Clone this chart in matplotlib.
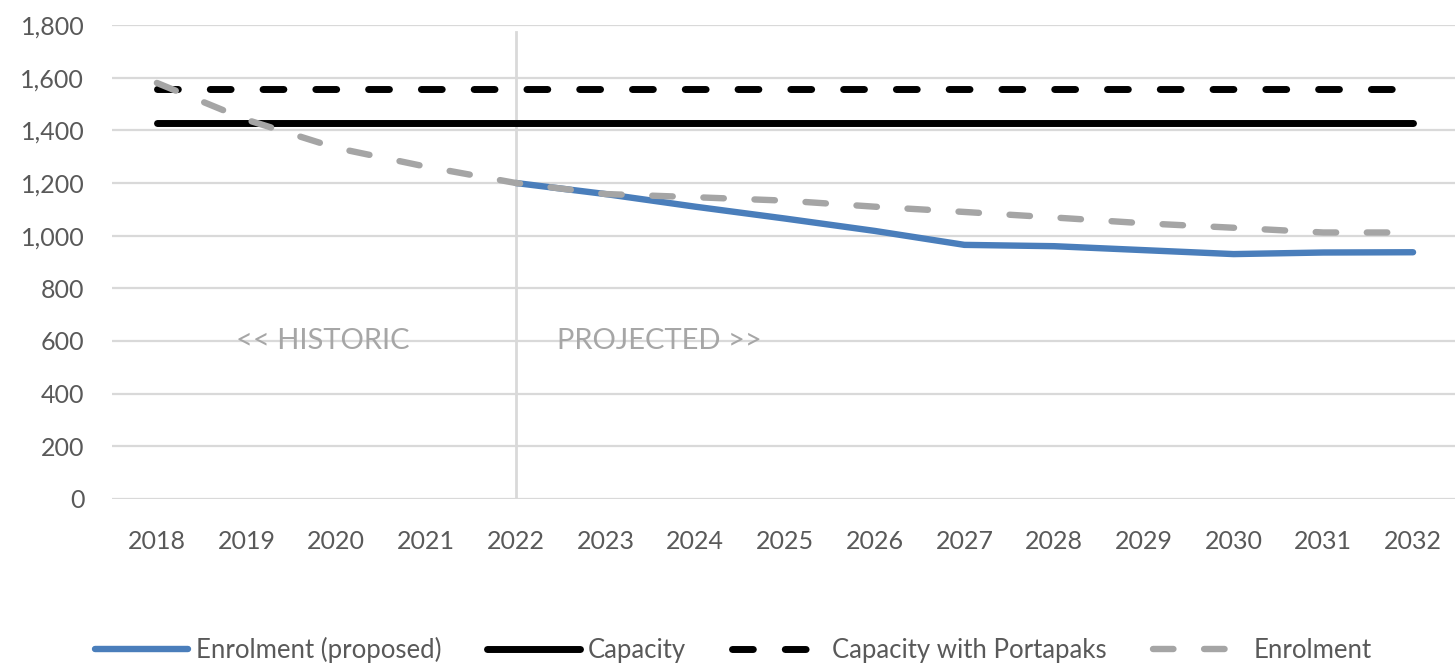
import matplotlib
matplotlib.use("Agg")
import matplotlib.pyplot as plt
from matplotlib.ticker import FuncFormatter

years = [str(y) for y in range(2018, 2033)]
enrol_proposed = [None, None, None, None, 1200, 1158, 1110, 1065, 1018, 965, 960, 945, 930, 936, 937]
capacity = [1428] * 15
capacity_porta = [1557] * 15
enrolment = [1580, 1440, 1333, 1262, 1200, 1158, 1146, 1133, 1110, 1090, 1069, 1047, 1030, 1012, 1012]

plt.rcParams['font.family'] = ['Lato', 'DejaVu Sans']

fig = plt.figure(figsize=(14.55, 6.68), dpi=100)
ax = fig.add_axes([0.077, 0.253, 0.925, 0.7096])

x = list(range(len(years)))
xp = [i for i, v in enumerate(enrol_proposed) if v is not None]
yp = [v for v in enrol_proposed if v is not None]

ax.plot(xp, yp, color='#4a7ebb', lw=4.6, solid_capstyle='round', solid_joinstyle='round',
        label='Enrolment (proposed)', zorder=3)
ax.plot(x, capacity, color='black', lw=5, solid_capstyle='round', label='Capacity', zorder=4)
ax.plot(x, capacity_porta, color='black', lw=5, dash_capstyle='round', dashes=(3, 4.6),
        label='Capacity with Portapaks', zorder=5)
ax.plot(x, enrolment, color='#a5a5a5', lw=4.6, dash_capstyle='round', dashes=(3.2, 4.8),
        label='Enrolment', zorder=6)

ax.axvline(4, color='#d9d9d9', lw=2, zorder=1, ymax=0.985)

ax.text(1.85, 600, '<< HISTORIC', color='#a6a6a6', fontsize=21, ha='center', va='center')
ax.text(5.6, 600, 'PROJECTED >>', color='#a6a6a6', fontsize=21, ha='center', va='center')

ax.set_xlim(-0.5, 14.5)
ax.set_ylim(0, 1800)
ax.set_yticks(range(0, 1801, 200))
ax.yaxis.set_major_formatter(FuncFormatter(lambda v, p: f'{int(v):,}'))
ax.set_xticks(x)
ax.set_xticklabels(years)
ax.grid(axis='y', color='#d9d9d9', lw=1.6, zorder=0)
ax.set_axisbelow(True)
for s in ax.spines.values():
    s.set_visible(False)
ax.tick_params(length=0, labelsize=18, colors='#595959')
ax.tick_params(axis='y', pad=20)
ax.tick_params(axis='x', pad=22)

fig.legend(loc='center', bbox_to_anchor=(0.504, 1 - 650 / 668), ncol=4, frameon=False,
           fontsize=18.5, labelcolor='#595959', handlelength=3.6, handletextpad=0.3,
           columnspacing=1.8)

fig.savefig('out.png', dpi=100)
